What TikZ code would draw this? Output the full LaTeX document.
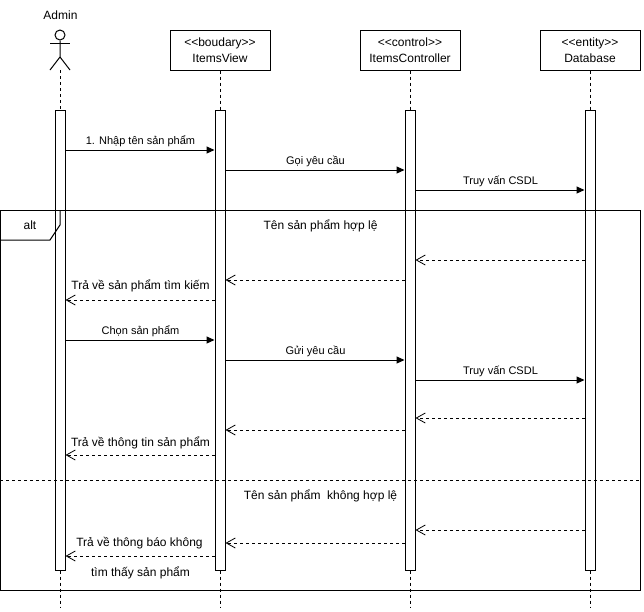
\documentclass[tikz,border=0pt]{standalone}
\usepackage{fontspec}
\setmainfont{Liberation Sans}
\usetikzlibrary{arrows.meta,positioning}
\tikzset{
    classbox/.style={rectangle,draw,fill=white,line width=1pt,minimum width=100pt,minimum height=40pt,inner sep=0pt,align=center,font=\fontsize{12}{16}\selectfont},
    activation/.style={rectangle,draw,fill=white,line width=1pt,minimum width=10pt,minimum height=460pt,inner sep=0pt},
    lifeline/.style={line width=1pt,dash pattern=on 3pt off 3pt},
    msglabel/.style={font=\fontsize{11}{13}\selectfont,inner sep=0pt},
    textlabel/.style={font=\fontsize{12}{14}\selectfont,inner sep=0pt},
    call/.style={line width=1pt,-{Stealth[inset=0pt,length=8pt,width=7pt]}},
    reply/.style={line width=1pt,dash pattern=on 3pt off 3pt,-{Straight Barb[length=9pt,width=10pt,line width=0.8pt]}},
    framebox/.style={rectangle,draw,line width=1pt,minimum width=640pt,minimum height=380pt,inner sep=0pt},
}
\begin{document}
\begin{tikzpicture}[x=1pt,y=-1pt]
    \useasboundingbox (0,0) rectangle (644,611);
    % actor
    \node[textlabel] (adminname) at (60.5,15) {Admin};
    \node[circle,draw,line width=1pt,minimum size=10pt,inner sep=0pt] (head) at (60,35) {};
    \coordinate (hip) at (60,57);
    \coordinate (foot) at (60,70);
    \draw[line width=1pt] (head) -- (hip) -- (50,70);
    \draw[line width=1pt] (hip) -- (70,70);
    \draw[line width=1pt] (50,43.5) -- (70,43.5);

    % class boxes
    \node[classbox] (view) at (220,50) {<{}<boudary>{}>\\ItemsView};
    \node[classbox] (ctrl) at (410,50) {<{}<control>{}>\\ItemsController};
    \node[classbox] (db) at (590,50) {<{}<entity>{}>\\Database};

    % activation bars
    \node[activation] (barA) at (60,340) {};
    \node[activation] (barV) at (220,340) {};
    \node[activation] (barC) at (410,340) {};
    \node[activation] (barD) at (590,340) {};

    % lifelines
    \coordinate (endA) at (60,607);
    \coordinate (endV) at (220,607);
    \coordinate (endC) at (410,607);
    \coordinate (endD) at (590,607);
    \draw[lifeline] (foot) -- (barA.north);
    \draw[lifeline] (view) -- (barV.north);
    \draw[lifeline] (ctrl) -- (barC.north);
    \draw[lifeline] (db) -- (barD.north);
    \draw[lifeline] (barA.south) -- (endA);
    \draw[lifeline] (barV.south) -- (endV);
    \draw[lifeline] (barC.south) -- (endC);
    \draw[lifeline] (barD.south) -- (endD);

    % alt frame
    \node[framebox] (frame) at (320.5,400) {};
    \coordinate (tabtop) at (60,210);
    \coordinate (tableft) at (0.5,240);
    \draw[line width=1pt] (tabtop) -- (60,225) -- (50,240) -- (tableft);
    \node[textlabel] (alt) at (30,225) {alt};
    \draw[lifeline] (frame.west |- 0,480) -- (frame.east |- 0,480);
    \node[textlabel] (guard1) at (320.5,225.5) {Tên sản phẩm hợp lệ};
    \node[textlabel] (guard2) at (320.5,495.5) {Tên sản phẩm\ \ không hợp lệ};

    % messages
    \draw[call] (barA.east |- 0,150) -- (barV.west |- 0,150);
    \node[msglabel] (m1) at (140.5,141.5) {1. Nhập tên sản phẩm};
    \draw[call] (barV.east |- 0,170) -- (barC.west |- 0,170);
    \node[msglabel] (m2) at (315.5,161.5) {Gọi yêu cầu};
    \draw[call] (barC.east |- 0,190) -- (barD.west |- 0,190);
    \node[msglabel] (m3) at (500.5,181.5) {Truy vấn CSDL};
    \draw[reply] (barD.west |- 0,260) -- (barC.east |- 0,260);
    \draw[reply] (barC.west |- 0,280) -- (barV.east |- 0,280);
    \draw[reply] (barV.west |- 0,300) -- (barA.east |- 0,300);
    \node[textlabel] (m4) at (140.5,285.5) {Trả về sản phẩm tìm kiếm};
    \draw[call] (barA.east |- 0,340) -- (barV.west |- 0,340);
    \node[msglabel] (m5) at (140.5,331.5) {Chọn sản phẩm};
    \draw[call] (barV.east |- 0,360) -- (barC.west |- 0,360);
    \node[msglabel] (m6) at (315.5,351.5) {Gửi yêu cầu};
    \draw[call] (barC.east |- 0,380) -- (barD.west |- 0,380);
    \node[msglabel] (m7) at (500.5,371.5) {Truy vấn CSDL};
    \draw[reply] (barD.west |- 0,418) -- (barC.east |- 0,418);
    \draw[reply] (barC.west |- 0,430) -- (barV.east |- 0,430);
    \draw[reply] (barV.west |- 0,455) -- (barA.east |- 0,455);
    \node[textlabel] (m8) at (140.5,442.5) {Trả về thông tin sản phẩm};
    \draw[reply] (barD.west |- 0,530) -- (barC.east |- 0,530);
    \draw[reply] (barC.west |- 0,543) -- (barV.east |- 0,543);
    \draw[reply] (barV.west |- 0,556) -- (barA.east |- 0,556);
    \node[textlabel] (m9) at (139.5,543.5) {Trả về thông báo không};
    \node[textlabel] (m10) at (140.5,572.5) {tìm thấy sản phẩm};
\end{tikzpicture}
\end{document}
